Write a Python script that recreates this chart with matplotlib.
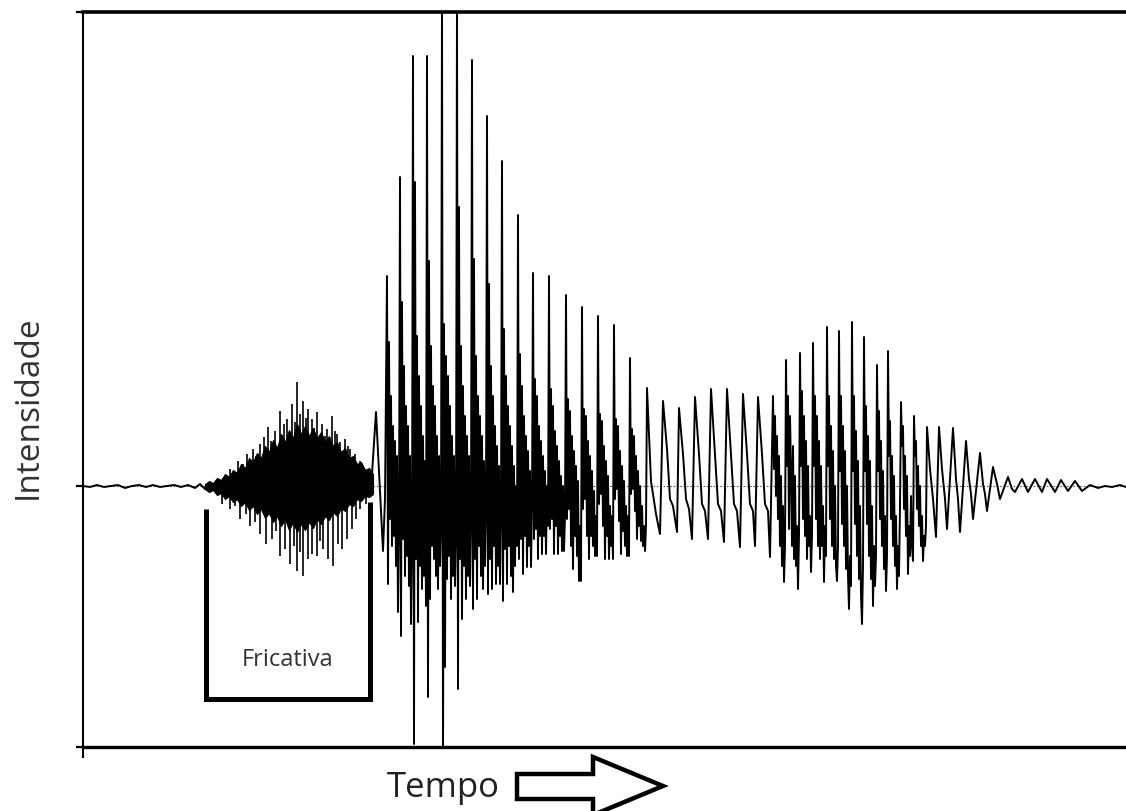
import matplotlib
matplotlib.use("Agg")
import matplotlib.pyplot as plt
from matplotlib.patches import Polygon

plt.rcParams['font.family'] = ['Open Sans', 'DejaVu Sans']

# tempo (unidades arbitrarias) e intensidade
quiet_t = [0, 7, 14, 21, 28, 35, 42, 49, 56, 63, 70, 77, 84, 91, 98, 105, 112, 117, 122]
quiet_a = [0, -1, 1, -1, 0, 1, -2, 0, 1, -1, 1, -1, 0, 1, -1, 1, -2, 2, -3]

# fricativa: nucleo denso + picos
fric_t = [122, 126, 130, 134, 138, 142, 146, 150, 154, 158, 162, 166, 170, 174, 178, 182,
          186, 190, 194, 198, 202, 206, 210, 214, 218, 222, 226, 230, 234, 238, 242, 246,
          250, 254, 258, 262, 266, 270, 274, 278, 282, 286, 290]
fric_upper = [2, 5, 3, 8, 6, 12, 9, 16, 13, 22, 18, 28, 24, 33, 28, 40,
              34, 46, 38, 52, 44, 56, 48, 62, 52, 60, 50, 58, 48, 54, 44, 50,
              40, 44, 34, 38, 28, 30, 22, 24, 16, 18, 12]
fric_lower = [-3, -6, -4, -9, -7, -13, -10, -16, -13, -20, -16, -24, -20, -28, -23, -32,
              -27, -36, -30, -40, -33, -44, -36, -46, -38, -44, -36, -42, -33, -38, -30, -34,
              -26, -30, -22, -25, -18, -20, -13, -15, -10, -11, -8]
spike_up_t = [147, 151, 155, 160, 164, 170, 173, 177, 181, 185, 188, 192, 197, 201, 204, 209,
              212, 214, 217, 220, 223, 225, 229, 231, 234, 239, 242, 244, 249, 252, 254, 257,
              262, 265, 267, 272, 277, 282]
spike_up_a = [17, 14, 25, 22, 32, 37, 30, 42, 49, 59, 45, 55, 75, 62, 67, 82,
              64, 104, 72, 85, 68, 77, 67, 58, 74, 62, 50, 57, 70, 55, 52, 44,
              47, 40, 37, 32, 25, 17]
spike_dn_t = [139, 147, 152, 157, 163, 167, 172, 177, 183, 189, 193, 197, 202, 207, 211, 214,
              217, 220, 225, 229, 234, 237, 240, 245, 250, 255, 259, 264, 269, 273, 277, 283]
spike_dn_a = [-18, -23, -20, -33, -28, -40, -36, -48, -58, -53, -45, -70, -63, -78, -60, -85,
              -66, -90, -73, -68, -70, -55, -63, -73, -80, -58, -63, -53, -43, -33, -23, -18]

# parte vozeada: inicio
onset_t = [289, 293, 300, 302]
onset_a = [12, 74, -65, -13]

# primeira vogal: inicio de cada periodo e amostras sucessivas
dense1_start = [304, 317, 330, 344, 359, 374, 389, 404, 419, 435, 450, 466, 483, 499, 515, 531, 547]
dense1_vals = [
    [210, -98, 144, -33, 90, -60, 60, -50, 45, -80, 30, -126, -40],
    [309, -150, 184, -53, 120, -90, 80, -70, 60, -100, 30, -138, -60],
    [430, -258, 304, -73, 150, -136, 110, -80, 80, -103, 50, -90, 25, -120],
    [430, -211, 225, -113, 140, -60, 100, -73, 80, -90, 50, -103, 30, -80, -40],
    [487, -273, 162, -181, 130, -93, 110, -70, 80, -113, 50, -90, 30, -100, -50],
    [487, -203, 279, -73, 140, -133, 100, -80, 70, -113, 50, -90, 30, -100, -40],
    [426, -123, 227, -73, 130, -113, 90, -60, 70, -90, 50, -103, 25, -80, -30],
    [370, -108, 202, -73, 120, -103, 90, -60, 60, -98, 40, -80, 20, -98, -30],
    [325, -115, 157, -63, 110, -98, 80, -60, 60, -90, 40, -106, 20, -80, 0, -60],
    [271, -73, 132, -53, 100, -88, 70, -50, 50, -81, 35, -60, 15, -81, -20],
    [213, -53, 107, -43, 90, -73, 60, -50, 45, -68, 30, -50, 15, -68, 0, -40],
    [210, -43, 97, -33, 80, -68, 55, -40, 40, -68, 25, -50, 10, -65, 0, -65, -30],
    [191, -33, 87, -23, 75, -60, 50, -83, 35, -50, 20, -70, 5, -95, -40, -95],
    [179, -23, 77, -13, 70, -50, 45, -73, 30, -50, 15, -60, -5, -70, -30, -70],
    [170, -18, 72, -8, 65, -40, 40, -73, 25, -50, 10, -73, -20, -60, -30, -73],
    [161, -13, 67, -3, 60, -35, 35, -68, 20, -45, 5, -60, -20, -70, -30, -70],
    [128, -8, 57, -3, 50, -25, 30, -53, 15, -40, 0, -55, -20, -60, -40, -65, -40],
]

mid_t = [564, 568, 573, 577, 580, 584, 587, 590, 594, 596, 600, 603, 606, 609, 612, 616, 619, 622,
         625, 628, 632, 635, 638, 641, 644, 648, 651, 654, 657, 660, 664, 667, 670, 672, 675, 679,
         682, 685, 687]
mid_a = [98, 5, -28, -48, 85, 37, -13, -20, -46, 78, 32, -13, -23, -53, 89, 32, -18, -25,
         -53, 97, 32, -18, -25, -56, 97, 32, -18, -25, -61, 92, 32, -18, -25, -60, 89, 32,
         -18, -25, -71]

# segunda vogal
dense2_start = [690, 703, 717, 730, 744, 756, 769, 781, 794, 805, 818, 831]
dense2_vals = [
    [90, 17, 70, -10, 50, -33, 30, -60, 10, -80, -20, -96, -60],
    [126, 20, 90, -43, 70, 17, -60, 40, -73, 10, -80, -40, -103, -50],
    [133, 20, 95, -33, 70, -50, 45, -73, 20, -60, -30, -86, -50],
    [143, 20, 90, -33, 70, -60, 45, -73, 20, -60, -20, -96, -40, -70],
    [159, 20, 90, -33, 60, -60, 35, -73, 0, -80, -95, -60],
    [155, 15, 90, -38, 60, -60, 35, -83, 0, -90, -123, -70, -100],
    [164, 15, 90, -38, 55, -70, 25, -93, -20, -110, -138, -80],
    [149, 15, 80, -38, 50, -70, 25, -93, -20, -120, -60, -100, -70],
    [121, 15, 75, -33, 45, -60, 15, -83, -30, -105, -70],
    [135, 30, 65, -33, 30, -60, 10, -80, -30, -103, -60, -90, -20],
    [84, 40, 60, -23, 30, -50, 10, -88, -40, -70, -10, -60, -75],
    [70, 30, 45, -23, 20, -40, 0, -60, -30, -75, -50, -60, -40],
]

tail_t = [844, 847, 850, 853, 856, 859, 862, 864, 870, 873, 875, 877, 883, 886, 888, 890,
          897, 900, 902, 904, 910, 914, 917, 925, 929, 932, 939, 945, 952, 959, 964, 972,
          978, 985, 992, 999, 1007, 1015, 1022, 1029, 1037, 1043]
tail_a = [59, 17, -13, -51, 59, 17, -13, -43, 58, 7, -13, -46, 45, 7, -8, -33,
          33, 2, -8, -25, 19, 2, -13, 9, -3, -6, 7, -6, 7, -6, 7, -6,
          6, -5, 5, -5, 1, -2, 0, -1, 1, -1]

# colchete da fricativa
bracket_t = [123, 123, 287, 287]
bracket_a = [-23, -213, -213, -16]


def periods(starts, vals):
    tt, aa = [], []
    for s, v in zip(starts, vals):
        for i, a in enumerate(v):
            tt.append(s + i)
            aa.append(a)
    return tt, aa


d1_t, d1_a = periods(dense1_start, dense1_vals)
d2_t, d2_a = periods(dense2_start, dense2_vals)
wave_t = onset_t + d1_t + mid_t + d2_t + tail_t
wave_a = onset_a + d1_a + mid_a + d2_a + tail_a

fig = plt.figure(figsize=(11.26, 8.12), dpi=100)
ax = fig.add_axes([83 / 1126, 64 / 812, 1043 / 1126, 735 / 812])

ax.axhline(0, color='#555555', lw=0.8, ls=(0, (1.5, 1.5)), zorder=1)
ax.plot(quiet_t, quiet_a, color='black', lw=1.4, zorder=3)
ax.fill_between(fric_t, fric_lower, fric_upper, color='black', lw=0.8, zorder=3)
ax.vlines(spike_up_t, 0, spike_up_a, color='black', lw=1.2, zorder=3)
ax.vlines(spike_dn_t, 0, spike_dn_a, color='black', lw=1.2, zorder=3)
ax.plot(wave_t, wave_a, color='black', lw=1.4, zorder=3)

ax.plot(bracket_t, bracket_a, color='black', lw=3.6, solid_joinstyle='miter',
        solid_capstyle='butt', zorder=4)
ax.text(205, -173, 'Fricativa', ha='center', va='center', fontsize=17, color='#333333')

ax.set_xlim(0, 1043)
ax.set_ylim(-261, 474)
ax.spines['right'].set_visible(False)
ax.spines['left'].set_linewidth(1.5)
ax.spines['top'].set_linewidth(2.6)
ax.spines['bottom'].set_linewidth(2.4)
ax.set_yticks([-261, 0, 474])
ax.set_xticks([0])
ax.set_yticklabels([])
ax.set_xticklabels([])
ax.tick_params(axis='y', length=5, width=1.6, direction='out')
ax.tick_params(axis='x', length=8, width=1.5, direction='out')

fig.text(28 / 1126, 1 - 407 / 812, 'Intensidade', rotation=90, ha='center', va='center',
         fontsize=24, color='#333333')
fig.text(443 / 1126, 1 - 788 / 812, 'Tempo', ha='center', va='center',
         fontsize=25, color='#222222')

arrow_pts = [(517, 775), (593, 775), (593, 758), (663, 787), (593, 816), (593, 800), (517, 800)]
arrow_pts = [(x / 100, (812 - y) / 100) for x, y in arrow_pts]
fig.patches.append(Polygon(arrow_pts, closed=True, facecolor='white', edgecolor='black',
                           lw=3.2, joinstyle='miter', transform=fig.dpi_scale_trans))

fig.savefig('out.png', dpi=100)
